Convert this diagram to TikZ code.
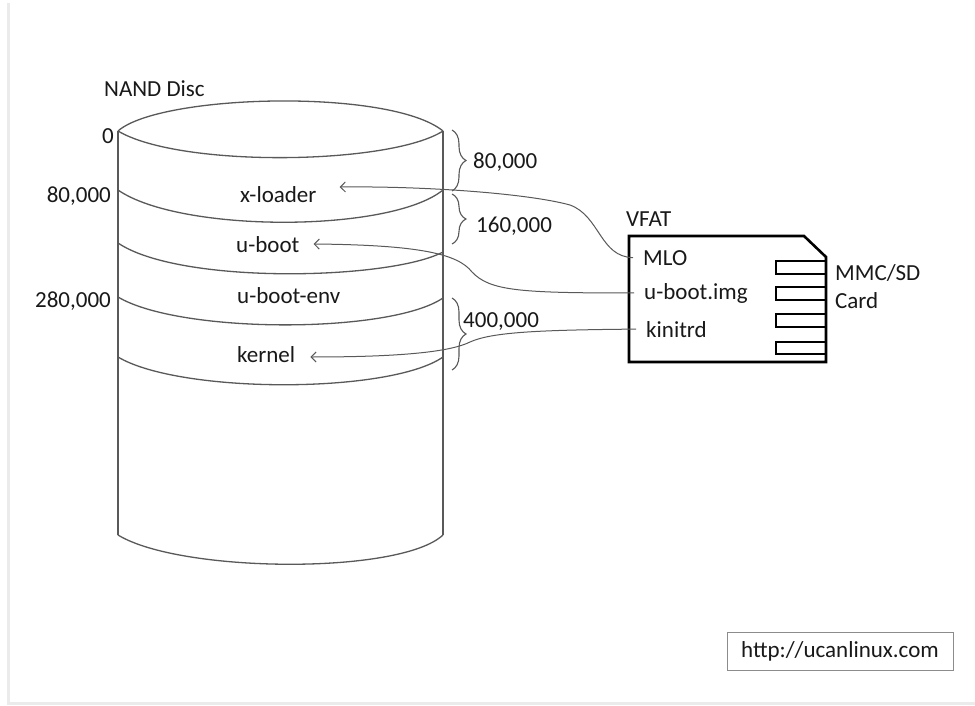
\documentclass[tikz,border=0pt]{standalone}
\usepackage{fontspec}
\setmainfont{Carlito}
\usetikzlibrary{arrows.meta,decorations.pathreplacing}

\begin{document}
\begin{tikzpicture}[x=1pt,y=-1pt,
  every node/.style={font=\fontsize{23}{27}\selectfont, inner sep=0pt, text=black!90},
  lbl/.style={anchor=base west},
  num/.style={anchor=base east},
  disc/.style={draw=black!65, line width=1.3pt},
  conn/.style={draw=black!65, line width=1pt, -{Straight Barb[length=5pt,width=10pt]}},
  brc/.style={draw=black!65, line width=1.1pt, decorate, decoration={brace, amplitude=14pt}},
  card/.style={draw=black, line width=2.6pt, line join=miter},
]
\useasboundingbox (0,0) rectangle (975,706);
\fill[white] (0,0) rectangle (975,706);

% page frame strips
\fill[black!8] (7,3) rectangle (10,705);
\fill[black!8] (7,702) rectangle (975,705);

% ---- NAND disc cylinder ----
\draw[disc] (118,131) .. controls (160,94) and (390,88) .. (443,131);
\draw[disc] (118,131) .. controls (180,168) and (390,165) .. (443,131);
\draw[disc] (118,131) -- (118,535);
\draw[disc] (443,131) -- (443,535);
\draw[disc] (118,535) .. controls (180,573) and (400,575) .. (443,535);
% partition boundaries
\draw[disc] (118,190) .. controls (180,233) and (390,233) .. (443,190);
\draw[disc] (118,243) .. controls (180,285) and (390,280) .. (443,252);
\draw[disc] (118,297) .. controls (180,334) and (390,334) .. (443,298);
\draw[disc] (118,357) .. controls (180,394) and (390,394) .. (443,357);

\node[lbl] (title) at (104,97) {NAND Disc};
\node[num] (o0) at (114,144) {0};
\node[num] (o80) at (111,203) {80,000};
\node[num] (o280) at (111,307) {280,000};

\node[lbl] (xl) at (240,203) {x-loader};
\node[lbl] (ub) at (236,252) {u-boot};
\node[lbl] (ube) at (237,303) {u-boot-env};
\node[lbl] (kn) at (237,362) {kernel};

% ---- size braces ----
\draw[brc] (452,130) -- (452,191);
\draw[brc] (452,194) -- (452,244);
\draw[brc] (452,298) -- (452,370);
\node[lbl] (s80) at (473,169) {80,000};
\node[lbl] (s160) at (476,232) {160,000};
\node[lbl] (s400) at (463,327) {400,000};

% ---- MMC/SD card ----
\draw[card] (629,236) -- (804,236) -- (826,257) -- (826,362) -- (629,362) -- cycle;
\foreach \ya/\yb in {261/274, 287/300, 314/327, 342/354}
  \draw[card] (826,\ya) -- (776,\ya) -- (776,\yb) -- (826,\yb);

\node[lbl] (vfat) at (626,226) {VFAT};
\node[lbl] (mlo) at (643,265) {MLO};
\node[lbl] (ubi) at (644,299) {u-boot.img};
\node[lbl] (kin) at (646,337) {kinitrd};
\node[lbl] (mmc) at (835,280) {MMC/SD};
\node[lbl] (crd) at (835,308) {Card};

% ---- copy connectors ----
\draw[conn] ([xshift=-10pt]mlo.west) .. controls (600,257) and (600,216) .. (570,205)
  .. controls (530,194) and (430,186) .. ([shift={(23,-16)}]xl.base east);
\draw[conn] ([xshift=-10pt]ubi.west) .. controls (520,293) and (490,291) .. (472,272)
  .. controls (458,254) and (420,245) .. ([shift={(14,-8)}]ub.base east);
\draw[conn] ([xshift=-10pt]kin.west) .. controls (540,330) and (492,332) .. (470,342)
  .. controls (450,352) and (400,357) .. ([shift={(15,-5)}]kn.base east);

% ---- footer ----
\node[draw=black!45, line width=0.8pt, minimum width=226pt, minimum height=38pt] (url) at (840,651) {http://ucanlinux.com};
\end{tikzpicture}
\end{document}
